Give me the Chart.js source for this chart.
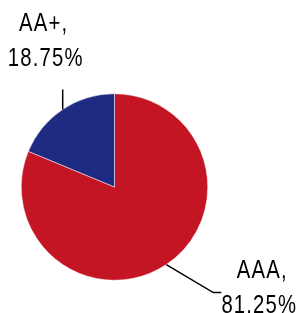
<!DOCTYPE html>
<html>
<head>
<meta charset="utf-8">
<script src="https://cdn.jsdelivr.net/npm/chart.js@4"></script>
<style>
  html, body { margin: 0; padding: 0; background: #fff; }
  #wrap { width: 303px; height: 313px; }
</style>
</head>
<body>
<div id="wrap"><canvas id="pieChart" width="303" height="313"></canvas></div>
<script>
// dados do grafico
const categorias = ['AAA', 'AA+'];
const valores = [81.25, 18.75];
const cores = ['#C31523', '#1F2A82'];
const rotulos = ['81.25%', '18.75%'];

// texto um pouco condensado, como no original
function textoEstreito(ctx, txt, x, y) {
    const sx = 0.78;
    ctx.save();
    ctx.scale(sx, 1);
    ctx.fillText(txt, x / sx, y);
    ctx.restore();
}

// desenha as linhas-guia e os rotulos de cada fatia
const labelPlugin = {
    id: 'labelPlugin',
    afterDatasetsDraw(chart) {
        const ctx = chart.ctx;
        const arcs = chart.getDatasetMeta(0).data;
        ctx.save();
        ctx.strokeStyle = '#000';
        ctx.lineWidth = 1.5;
        ctx.fillStyle = '#000';
        ctx.font = '26px "Liberation Sans", Arial, sans-serif';
        ctx.letterSpacing = '1.5px';
        ctx.textAlign = 'center';
        ctx.textBaseline = 'alphabetic';
        arcs.forEach((arc, i) => {
            const mid = (arc.startAngle + arc.endAngle) / 2;
            const x0 = arc.x + Math.cos(mid) * arc.outerRadius;
            const y0 = arc.y + Math.sin(mid) * arc.outerRadius;
            const l1 = categorias[i] + ',';
            const l2 = rotulos[i];
            if (i === 0) {
                // AAA: diagonal + horizontal, texto a direita
                const x1 = x0 + 47, y1 = y0 + 28;
                const x2 = x1 + 8;
                ctx.beginPath();
                ctx.moveTo(x0, y0);
                ctx.lineTo(x1, y1);
                ctx.lineTo(x2, y1);
                ctx.stroke();
                const cx = x2 + 38;
                textoEstreito(ctx, l1, cx + 3, y1 - 15);
                textoEstreito(ctx, l2, cx, y1 + 20);
            } else {
                // AA+: linha vertical, texto acima
                const y1 = y0 - 20;
                ctx.beginPath();
                ctx.moveTo(x0, y0);
                ctx.lineTo(x0, y1);
                ctx.stroke();
                const cx = x0 - 17;
                textoEstreito(ctx, l1, cx - 2, y1 - 58);
                textoEstreito(ctx, l2, cx, y1 - 23);
            }
        });
        ctx.restore();
    }
};

new Chart(document.getElementById('pieChart'), {
    type: 'pie',
    data: {
        labels: categorias,
        datasets: [{
            data: valores,
            backgroundColor: cores,
            borderColor: '#ffffff',
            borderWidth: 0.5
        }]
    },
    options: {
        responsive: false,
        animation: false,
        layout: { padding: { left: 21, top: 93, right: 95, bottom: 32 } },
        plugins: {
            legend: { display: false },
            tooltip: { enabled: false }
        }
    },
    plugins: [labelPlugin]
});
</script>
</body>
</html>
